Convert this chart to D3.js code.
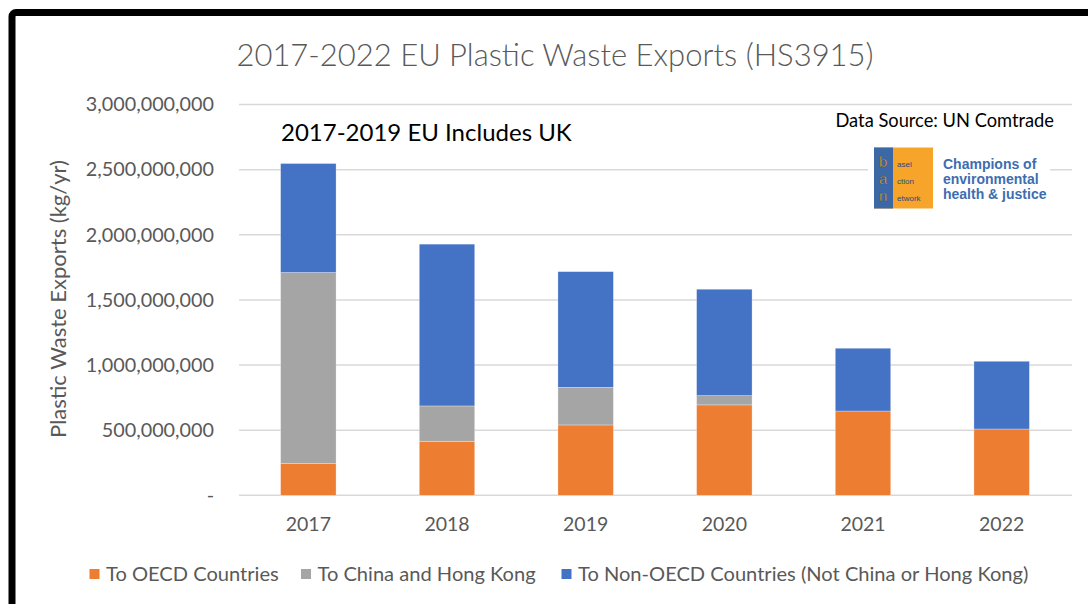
<!DOCTYPE html>
<html>
<head>
<meta charset="utf-8">
<script src="https://cdn.jsdelivr.net/npm/d3@7"></script>
<style>
	body { margin: 0; background: #fff; }
	text { font-family: Lato, "Open Sans", sans-serif; }
</style>
</head>
<body>
<svg width="1088" height="604"></svg>
<script>
const years = ["2017", "2018", "2019", "2020", "2021", "2022"]
// kg per year
const toOECD = [243e6, 415e6, 540e6, 694e6, 647e6, 509e6]
const toChinaHK = [1467e6, 271e6, 289e6, 71e6, 0, 0]
const toNonOECD = [837e6, 1242e6, 888e6, 817e6, 482e6, 520e6]
const yTicks = [0, 500e6, 1000e6, 1500e6, 2000e6, 2500e6, 3000e6]
const seriesNames = ["To OECD Countries", "To China and Hong Kong", "To Non-OECD Countries (Not China or Hong Kong)"]

const colors = {
	oecd: "#ed7d31",
	china: "#a5a5a5",
	nonoecd: "#4472c4",
}

var svg = d3.select("svg"),
	width = +svg.attr("width"),
	height = +svg.attr("height")

// frame (only top and left edges show in the picture)
svg
	.append("rect")
	.attr("x", 12)
	.attr("y", 12.5)
	.attr("width", 1200)
	.attr("height", 800)
	.attr("rx", 4)
	.attr("fill", "#fff")
	.attr("stroke", "#000")
	.attr("stroke-width", 7)

var x = d3.scaleBand().domain(years).range([239, 1071]).paddingInner(0.6).paddingOuter(0.3)
var y = d3.scaleLinear().domain([0, 3000e6]).range([495.3, 104.5])

const rows = years.map((yr, i) => ({
	year: yr,
	oecd: toOECD[i],
	china: toChinaHK[i],
	nonoecd: toNonOECD[i],
}))
const stack = d3.stack().keys(["oecd", "china", "nonoecd"])(rows)

// gridlines
svg
	.append("g")
	.selectAll("line")
	.data(yTicks)
	.enter()
	.append("line")
	.attr("x1", 239)
	.attr("x2", 1072)
	.attr("y1", (d) => y(d))
	.attr("y2", (d) => y(d))
	.attr("stroke", "#d9d9d9")
	.attr("stroke-width", 1.5)

// y tick labels
var yAxis = svg
	.append("g")
	.attr("transform", "translate(222,0)")
	.call(
		d3
			.axisLeft(y)
			.tickValues(yTicks)
			.tickSize(0)
			.tickPadding(8)
			.tickFormat((d) => (d === 0 ? "-" : d3.format(",")(d)))
	)
yAxis.select(".domain").remove()
yAxis
	.selectAll("text")
	.attr("fill", "#595959")
	.style("font-size", "19.8px")
	.style("font-family", "Lato, sans-serif")

// bars
svg
	.append("g")
	.selectAll("g")
	.data(stack)
	.enter()
	.append("g")
	.attr("fill", (d) => colors[d.key])
	.selectAll("rect")
	.data((d) => d)
	.enter()
	.append("rect")
	.attr("x", (d) => x(d.data.year))
	.attr("width", x.bandwidth())
	.attr("y", (d) => y(d[1]))
	.attr("height", (d) => y(d[0]) - y(d[1]))
	.attr("stroke", "#fff")
	.attr("stroke-opacity", 0.5)
	.attr("stroke-width", 0.6)

// x labels
var xAxis = svg
	.append("g")
	.attr("transform", "translate(0,511)")
	.call(d3.axisBottom(x).tickSize(0).tickPadding(6))
xAxis.select(".domain").remove()
xAxis
	.selectAll("text")
	.attr("fill", "#595959")
	.style("font-size", "19.5px")
	.style("font-family", "Lato, sans-serif")

// title
svg
	.append("text")
	.attr("x", 555)
	.attr("y", 66)
	.attr("text-anchor", "middle")
	.attr("fill", "#595959")
	.style("font-size", "31px")
	.style("font-weight", 300)
	.text("2017-2022 EU Plastic Waste Exports (HS3915)")

// y title
svg
	.append("text")
	.attr("transform", "translate(66,299) rotate(-90)")
	.attr("text-anchor", "middle")
	.attr("fill", "#595959")
	.style("font-size", "22px")
	.text("Plastic Waste Exports (kg/yr)")

// notes
svg
	.append("text")
	.attr("x", 281)
	.attr("y", 141)
	.attr("fill", "#000")
	.style("font-size", "24px")
	.text("2017-2019 EU Includes UK")

svg
	.append("text")
	.attr("x", 1054)
	.attr("y", 127)
	.attr("text-anchor", "end")
	.attr("fill", "#000")
	.style("font-size", "18.3px")
	.text("Data Source: UN Comtrade")

// BAN logo
var logo = svg.append("g")
logo.append("rect").attr("x", 868).attr("y", 145).attr("width", 182).attr("height", 66).attr("fill", "#fff")
logo.append("rect").attr("x", 874).attr("y", 147.5).attr("width", 59).attr("height", 61).attr("fill", "#f7a52a")
logo.append("rect").attr("x", 874).attr("y", 147.5).attr("width", 19).attr("height", 61).attr("fill", "#3c68a6")
const banBig = ["b", "a", "n"]
const banSmall = ["asel", "ction", "etwork"]
const banY = [167, 184, 201]
logo
	.append("text")
	.attr("fill", "#f7a52a")
	.attr("stroke", "#2b4a78")
	.attr("stroke-width", 0.4)
	.style("font-family", "Liberation Sans, Arial, sans-serif")
	.style("font-size", "15px")
	.selectAll("tspan")
	.data(banBig)
	.enter()
	.append("tspan")
	.attr("x", 879)
	.attr("y", (d, i) => banY[i])
	.text((d) => d)
logo
	.append("text")
	.attr("fill", "#2b4a78")
	.style("font-family", "Liberation Sans, Arial, sans-serif")
	.style("font-size", "8px")
	.selectAll("tspan")
	.data(banSmall)
	.enter()
	.append("tspan")
	.attr("x", 897)
	.attr("y", (d, i) => banY[i])
	.text((d) => d)
const tagLines = ["Champions of", "environmental", "health & justice"]
logo
	.selectAll(".tag")
	.data(tagLines)
	.enter()
	.append("text")
	.attr("class", "tag")
	.attr("x", 943)
	.attr("y", (d, i) => 168.5 + i * 15)
	.attr("fill", "#3d6db0")
	.style("font-family", "Liberation Sans, Arial, sans-serif")
	.style("font-weight", "bold")
	.style("font-size", "14px")
	.text((d) => d)

// legend
const legendX = [89.5, 301, 561.5]
const legendKeys = ["oecd", "china", "nonoecd"]
var legend = svg
	.append("g")
	.selectAll("g")
	.data(seriesNames)
	.enter()
	.append("g")
	.attr("transform", (d, i) => "translate(" + legendX[i] + ",574)")
legend
	.append("rect")
	.attr("x", 0)
	.attr("y", -5)
	.attr("width", 10)
	.attr("height", 10)
	.attr("fill", (d, i) => colors[legendKeys[i]])
legend
	.append("text")
	.attr("x", 16.5)
	.attr("y", 7)
	.attr("fill", "#595959")
	.style("font-size", "20.1px")
	.text((d) => d)
</script>
</body>
</html>
